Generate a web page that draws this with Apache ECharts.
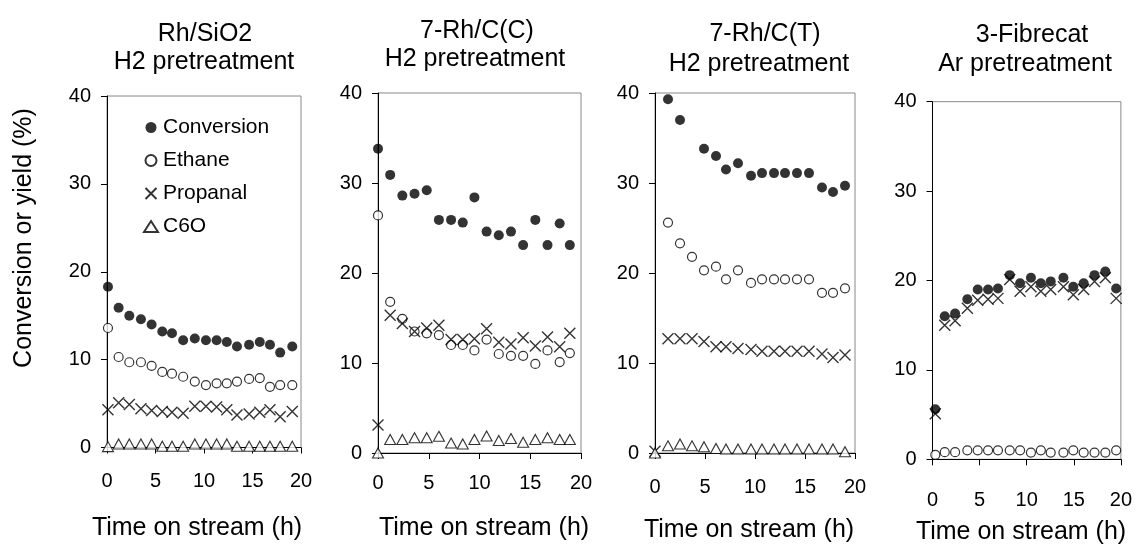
<!DOCTYPE html>
<html><head><meta charset="utf-8">
<script src="https://cdn.jsdelivr.net/npm/echarts@6/dist/echarts.min.js"></script>
<style>html,body{margin:0;padding:0;background:#fff}#c{width:1135px;height:544px}</style>
</head><body><div id="c"></div>
<script>
const seriesNames = ['Conversion', 'Ethane', 'Propanal', 'C6O'];
const panelTitles = [['Rh/SiO2', 'H2 pretreatment'], ['7-Rh/C(C)', 'H2 pretreatment'], ['7-Rh/C(T)', 'H2 pretreatment'], ['3-Fibrecat', 'Ar pretreatment']];
const xAxisTitle = 'Time on stream (h)';
const yAxisTitle = 'Conversion or yield (%)';

// Panel 1: Rh/SiO2
const p1Time = [0.1, 1.2, 2.3, 3.5, 4.6, 5.7, 6.7, 7.85, 9.05, 10.2, 11.3, 12.35, 13.4, 14.65, 15.75, 16.8, 17.85, 19.1];
const p1Conv = [18.3, 15.9, 15.0, 14.6, 14.0, 13.2, 13.0, 12.2, 12.4, 12.2, 12.2, 12.0, 11.5, 11.7, 12.0, 11.7, 10.8, 11.5];
const p1Eth  = [13.6, 10.3, 9.7, 9.7, 9.3, 8.6, 8.4, 8.05, 7.5, 7.1, 7.3, 7.3, 7.5, 7.8, 7.9, 6.9, 7.1, 7.1];
const p1Prop = [4.3, 5.1, 4.9, 4.4, 4.2, 4.1, 4.0, 3.9, 4.7, 4.7, 4.6, 4.3, 3.7, 3.8, 4.0, 4.3, 3.5, 4.1];
const p1C6O  = [0.1, 0.4, 0.4, 0.4, 0.4, 0.15, 0.15, 0.15, 0.4, 0.4, 0.4, 0.4, 0.15, 0.15, 0.15, 0.15, 0.15, 0.15];

// Panel 2: 7-Rh/C(C)
const p2Time = [0, 1.2, 2.4, 3.6, 4.8, 6.0, 7.2, 8.35, 9.5, 10.7, 11.9, 13.1, 14.3, 15.5, 16.7, 17.9, 18.9];
const p2Conv = [33.8, 30.9, 28.6, 28.8, 29.2, 25.9, 25.9, 25.6, 28.4, 24.6, 24.2, 24.6, 23.1, 25.9, 23.1, 25.5, 23.1];
const p2Eth  = [26.4, 16.8, 14.9, 13.5, 13.3, 13.1, 12.0, 12.0, 11.4, 12.6, 11.0, 10.8, 10.8, 9.9, 11.4, 10.1, 11.1];
const p2Prop = [3.1, 15.3, 14.4, 13.5, 13.9, 14.2, 12.6, 12.6, 12.7, 13.8, 12.3, 12.1, 12.8, 11.9, 12.9, 11.8, 13.3];
const p2C6O  = [0, 1.5, 1.5, 1.7, 1.7, 1.85, 1.1, 1.0, 1.5, 1.9, 1.4, 1.6, 1.2, 1.5, 1.7, 1.5, 1.5];

// Panel 3: 7-Rh/C(T)
const p3Time = [0, 1.3, 2.5, 3.7, 4.9, 6.1, 7.1, 8.3, 9.6, 10.7, 11.9, 13.0, 14.2, 15.4, 16.7, 17.8, 19.0];
const p3Conv = [null, 39.3, 37.0, null, 33.8, 33.0, 31.5, 32.2, 30.8, 31.1, 31.1, 31.1, 31.1, 31.1, 29.5, 29.0, 29.7];
const p3Eth  = [null, 25.6, 23.3, 21.8, 20.3, 20.7, 19.3, 20.3, 18.9, 19.3, 19.3, 19.3, 19.3, 19.3, 17.8, 17.8, 18.3];
const p3Prop = [0.2, 12.7, 12.7, 12.7, 12.4, 11.8, 11.8, 11.6, 11.5, 11.3, 11.3, 11.3, 11.3, 11.3, 11.0, 10.6, 10.9];
const p3C6O  = [0, 0.8, 1.0, 0.8, 0.7, 0.5, 0.45, 0.45, 0.45, 0.45, 0.45, 0.45, 0.45, 0.45, 0.45, 0.45, 0.15];

// Panel 4: 3-Fibrecat
const p4Time = [0.3, 1.3, 2.4, 3.7, 4.8, 5.9, 6.95, 8.2, 9.3, 10.45, 11.5, 12.55, 13.9, 14.95, 16.05, 17.2, 18.35, 19.5];
const p4Conv = [5.6, 16.0, 16.3, 17.9, 19.0, 19.0, 19.1, 20.6, 19.7, 20.3, 19.7, 19.9, 20.3, 19.3, 19.7, 20.6, 21.0, 19.1];
const p4Eth  = [0.5, 0.8, 0.8, 1.0, 1.0, 1.0, 1.0, 1.0, 1.0, 0.75, 1.0, 0.75, 0.75, 1.0, 0.75, 0.75, 0.75, 1.0];
const p4Prop = [5.1, 15.0, 15.5, 16.9, 17.8, 17.9, 18.0, 20.1, 18.8, 19.3, 18.8, 19.0, 19.3, 18.4, 19.0, 19.9, 20.3, 18.0];

const xTickValues = [0, 5, 10, 15, 20];
const yTickValues = [0, 10, 20, 30, 40];

const FONT = '"Liberation Sans", Arial, sans-serif';

const panels = [
  {time: p1Time, vals: [p1Conv, p1Eth, p1Prop, p1C6O]},
  {time: p2Time, vals: [p2Conv, p2Eth, p2Prop, p2C6O]},
  {time: p3Time, vals: [p3Conv, p3Eth, p3Prop, p3C6O]},
  {time: p4Time, vals: [p4Conv, p4Eth, p4Prop, null]}
];

const grids = [
  {left: 107, top: 96, width: 194, height: 351.5},
  {left: 378, top: 93, width: 203, height: 360},
  {left: 655, top: 93, width: 200, height: 360},
  {left: 932.5, top: 101.7, width: 190, height: 357.6}
];
const xLabelMargin = [24, 20, 24, 31];

const styles = [
  {symbol: 'circle', symbolSize: 10, itemStyle: {color: '#000'}},
  {symbol: 'circle', symbolSize: 9, itemStyle: {color: '#fff', borderColor: '#000', borderWidth: 1.2}},
  {symbol: 'path://M0,0L10,10M10,0L0,10', symbolSize: 11, itemStyle: {color: 'transparent', borderColor: '#000', borderWidth: 1.4}},
  {symbol: 'triangle', symbolSize: [11, 10], itemStyle: {color: '#fff', borderColor: '#000', borderWidth: 1.1}}
];

function pairs(t, v) {
  const out = [];
  for (let i = 0; i < t.length; i++) if (v[i] != null) out.push([t[i], v[i]]);
  return out;
}

const series = [];
panels.forEach((p, gi) => {
  p.vals.forEach((v, si) => {
    if (!v) return;
    series.push(Object.assign({
      type: 'scatter', name: seriesNames[si], xAxisIndex: gi, yAxisIndex: gi,
      data: pairs(p.time, v), clip: false, emphasis: {disabled: true}
    }, JSON.parse(JSON.stringify(styles[si]))));
  });
});

const xAxes = grids.map((g, i) => ({
  type: 'value', gridIndex: i, min: 0, max: 20, interval: 5,
  axisLine: {show: true, onZero: false, lineStyle: {color: '#000', width: 1}},
  axisTick: {show: true, inside: false, length: 6, lineStyle: {color: '#000'}},
  axisLabel: {fontSize: 20, fontFamily: FONT, color: '#000', margin: xLabelMargin[i]},
  splitLine: {show: false}
}));
const yAxes = grids.map((g, i) => ({
  type: 'value', gridIndex: i, min: 0, max: 40, interval: 10,
  axisLine: {show: true, onZero: false, lineStyle: {color: '#000', width: 1}},
  axisTick: {show: true, inside: false, length: 6, lineStyle: {color: '#000'}},
  axisLabel: {fontSize: 20, fontFamily: FONT, color: '#000', margin: 16},
  splitLine: {show: false}
}));

const titlePos = [
  [[205, 34], [204, 62]],
  [[477, 31], [475, 59]],
  [[765, 34], [759, 64]],
  [[1032, 35], [1025, 64]]
];
const xTitlePos = [[197, 528], [484, 528], [749, 530], [1021, 532]];

const graphics = [];
panelTitles.forEach((lines, i) => {
  lines.forEach((txt, j) => {
    graphics.push({type: 'text', x: titlePos[i][j][0], y: titlePos[i][j][1],
      style: {text: txt, font: '25px ' + FONT, fill: '#000', textAlign: 'center', textVerticalAlign: 'middle'}});
  });
  graphics.push({type: 'text', x: xTitlePos[i][0], y: xTitlePos[i][1],
    style: {text: xAxisTitle, font: '25px ' + FONT, fill: '#000', textAlign: 'center', textVerticalAlign: 'middle'}});
});
graphics.push({type: 'text', x: 24, y: 238, rotation: Math.PI / 2,
  style: {text: yAxisTitle, font: '25px ' + FONT, fill: '#000', textAlign: 'center', textVerticalAlign: 'middle'}});

const chart = echarts.init(document.getElementById('c'), null, {renderer: 'canvas'});
chart.setOption({
  backgroundColor: '#fff',
  animation: false,
  grid: grids.map(g => Object.assign({show: true, borderColor: '#888', borderWidth: 1, backgroundColor: 'transparent'}, g)),
  xAxis: xAxes,
  yAxis: yAxes,
  legend: {
    data: seriesNames, orient: 'vertical', left: 138, top: 112,
    itemWidth: 14, itemHeight: 11, itemGap: 12,
    textStyle: {fontSize: 21, fontFamily: FONT, color: '#000'},
    selectedMode: false
  },
  graphic: graphics,
  series: series
});
</script>
</body></html>
